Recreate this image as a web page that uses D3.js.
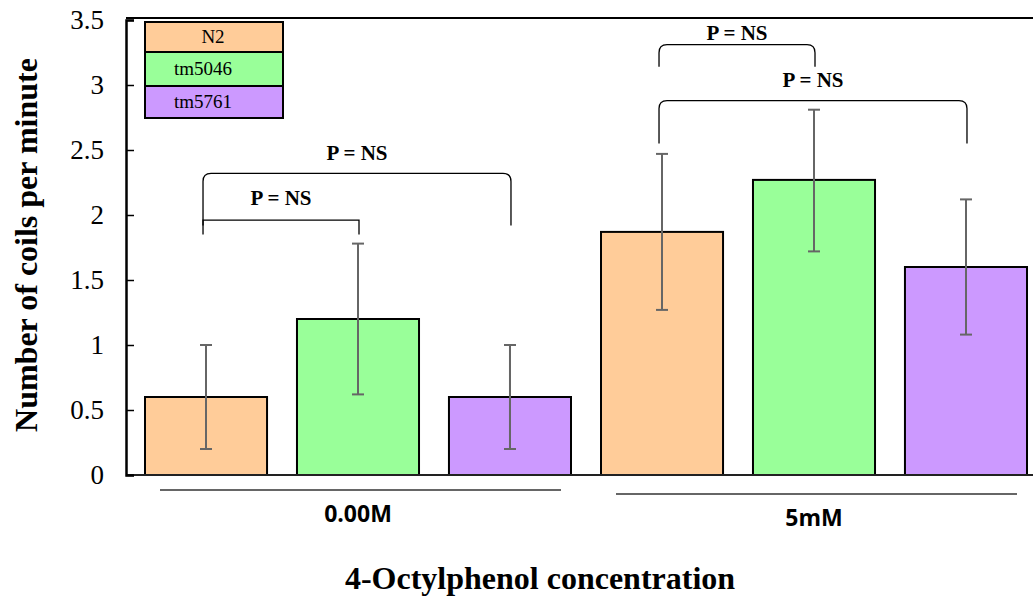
<!DOCTYPE html>
<html>
<head>
<meta charset="utf-8">
<script src="https://cdn.jsdelivr.net/npm/d3@7"></script>
<style>
  body { margin: 0; background: #fff; }
  svg { display: block; }
</style>
</head>
<body>
<div class="chart"></div>
<script>
// Data
const groups = ["0.00M", "5mM"];
const series = ["N2", "tm5046", "tm5761"];
const colors = ["#FFCC99", "#99FF99", "#CC99FF"];
const means = [
    [0.6, 1.2, 0.6],
    [1.87, 2.27, 1.6]
];
const errLow = [
    [0.2, 0.62, 0.2],
    [1.27, 1.72, 1.08]
];
const errHigh = [
    [1.0, 1.78, 1.0],
    [2.47, 2.81, 2.12]
];
const yTicks = [0, 0.5, 1, 1.5, 2, 2.5, 3, 3.5];
// brackets: group, from series, to series, top value, leg bottom value
const brackets = [
    { group: "0.00M", from: "N2", to: "tm5761", top: 2.32, legEnd: 1.92, label: "P = NS", curved: true, gap: 13 },
    { group: "0.00M", from: "N2", to: "tm5046", top: 1.96, legEnd: 1.85, label: "P = NS", curved: false, gap: 15 },
    { group: "5mM", from: "N2", to: "tm5046", top: 3.31, legEnd: 3.14, label: "P = NS", curved: true, gap: 5 },
    { group: "5mM", from: "N2", to: "tm5761", top: 2.88, legEnd: 2.55, label: "P = NS", curved: true, gap: 14 }
];

const width = 1033;
const height = 599;
const margin = { top: 18, left: 126, bottom: 475 };

const svg = d3.select(".chart").append("svg")
    .attr("width", width)
    .attr("height", height);

// scales
const x0 = d3.scaleBand()
    .domain(groups)
    .range([130, 1042]);
const x1 = d3.scaleBand()
    .domain(series)
    .range([0, x0.bandwidth()])
    .paddingInner(0.197)
    .paddingOuter(0.0987);
const y = d3.scaleLinear()
    .domain([0, 3.5])
    .range([margin.bottom, margin.top + 2]);
const color = d3.scaleOrdinal().domain(series).range(colors);

const serif = "'Liberation Serif', 'Times New Roman', serif";
const sans = "'Open Sans', 'Liberation Sans', sans-serif";

// flat rows
const rows = [];
groups.forEach((g, gi) => series.forEach((s, si) => {
    rows.push({ group: g, key: s, value: means[gi][si], lo: errLow[gi][si], hi: errHigh[gi][si] });
}));

// top frame line
svg.append("line")
    .attr("x1", margin.left).attr("x2", width)
    .attr("y1", margin.top).attr("y2", margin.top)
    .attr("stroke", "#000").attr("stroke-width", 2);

// bars
svg.selectAll(".bar")
    .data(rows)
    .enter()
    .append("rect")
    .attr("class", "bar")
    .attr("x", d => x0(d.group) + x1(d.key))
    .attr("y", d => y(d.value))
    .attr("width", x1.bandwidth())
    .attr("height", d => y(0) - y(d.value))
    .attr("fill", d => color(d.key))
    .attr("stroke", "#000")
    .attr("stroke-width", 2);

// x axis baseline
svg.append("line")
    .attr("x1", margin.left).attr("x2", width)
    .attr("y1", y(0)).attr("y2", y(0))
    .attr("stroke", "#222").attr("stroke-width", 2);

// y axis
const yAxis = d3.axisLeft(y)
    .tickValues(yTicks)
    .tickSize(-8)
    .tickPadding(22)
    .tickFormat(d => d);
const ya = svg.append("g")
    .attr("transform", `translate(${margin.left},0)`)
    .call(yAxis);
ya.select(".domain").attr("stroke", "#000").attr("stroke-width", 2.5);
ya.selectAll(".tick line").attr("stroke", "#000").attr("stroke-width", 1.5);
ya.selectAll(".tick text")
    .attr("font-family", serif)
    .attr("font-size", 27)
    .attr("fill", "#000");

// error bars
const eb = svg.selectAll(".err")
    .data(rows)
    .enter()
    .append("g")
    .attr("class", "err")
    .attr("stroke", "#666")
    .attr("stroke-width", 2);
const cx = d => x0(d.group) + x1(d.key) + x1.bandwidth() / 2;
eb.append("line")
    .attr("x1", cx).attr("x2", cx)
    .attr("y1", d => y(d.lo)).attr("y2", d => y(d.hi));
eb.append("line")
    .attr("x1", d => cx(d) - 6).attr("x2", d => cx(d) + 6)
    .attr("y1", d => y(d.hi)).attr("y2", d => y(d.hi));
eb.append("line")
    .attr("x1", d => cx(d) - 6).attr("x2", d => cx(d) + 6)
    .attr("y1", d => y(d.lo)).attr("y2", d => y(d.lo));

// significance brackets
const bx = (g, s) => x0(g) + x1(s) + x1.bandwidth() / 2;
brackets.forEach(b => {
    const xl = bx(b.group, b.from) - 3;
    const xr = bx(b.group, b.to) + 1;
    const yt = y(b.top);
    const r = b.curved ? 8 : 0;
    const p = d3.path();
    p.moveTo(xl, y(b.legEnd));
    p.lineTo(xl, yt + r);
    if (r) p.quadraticCurveTo(xl, yt, xl + r, yt);
    p.lineTo(xr - r, yt);
    if (r) p.quadraticCurveTo(xr, yt, xr, yt + r);
    p.lineTo(xr, y(b.legEnd));
    svg.append("path")
        .attr("d", p.toString())
        .attr("fill", "none")
        .attr("stroke", "#000")
        .attr("stroke-width", 1.3);
    svg.append("text")
        .attr("x", (xl + xr) / 2)
        .attr("y", yt - b.gap)
        .attr("text-anchor", "middle")
        .attr("font-family", serif)
        .attr("font-weight", "bold")
        .attr("font-size", 21)
        .text(b.label);
});

// category labels with lines
groups.forEach((g, i) => {
    const gx = x0(g);
    const ly = y(0) + 15 + i * 4;
    svg.append("line")
        .attr("x1", gx + 30).attr("x2", gx + x0.bandwidth() - 25)
        .attr("y1", ly).attr("y2", ly)
        .attr("stroke", "#333").attr("stroke-width", 1.3);
    svg.append("text")
        .attr("x", gx + x0.bandwidth() / 2)
        .attr("y", ly + 32)
        .attr("text-anchor", "middle")
        .attr("font-family", sans)
        .attr("font-weight", "bold")
        .attr("font-size", 23)
        .text(g);
});

// axis titles
svg.append("text")
    .attr("transform", `translate(37, 245) rotate(-90)`)
    .attr("text-anchor", "middle")
    .attr("font-family", serif)
    .attr("font-weight", "bold")
    .attr("font-size", 32)
    .text("Number of coils per minute");
svg.append("text")
    .attr("x", 540)
    .attr("y", 589)
    .attr("text-anchor", "middle")
    .attr("font-family", serif)
    .attr("font-weight", "bold")
    .attr("font-size", 32)
    .text("4-Octylphenol concentration");

// legend
const legend = svg.append("g").attr("transform", "translate(145, 22)");
const rowH = [30, 34, 32];
let ly = 0;
series.forEach((s, i) => {
    legend.append("rect")
        .attr("x", 0).attr("y", ly)
        .attr("width", 138).attr("height", rowH[i])
        .attr("fill", color(s))
        .attr("stroke", "#000")
        .attr("stroke-width", 2);
    legend.append("text")
        .attr("x", i === 0 ? 68 : 58)
        .attr("y", ly + rowH[i] / 2 + 6)
        .attr("text-anchor", "middle")
        .attr("font-family", serif)
        .attr("font-size", 19)
        .text(s);
    ly += rowH[i];
});
</script>
</body>
</html>
